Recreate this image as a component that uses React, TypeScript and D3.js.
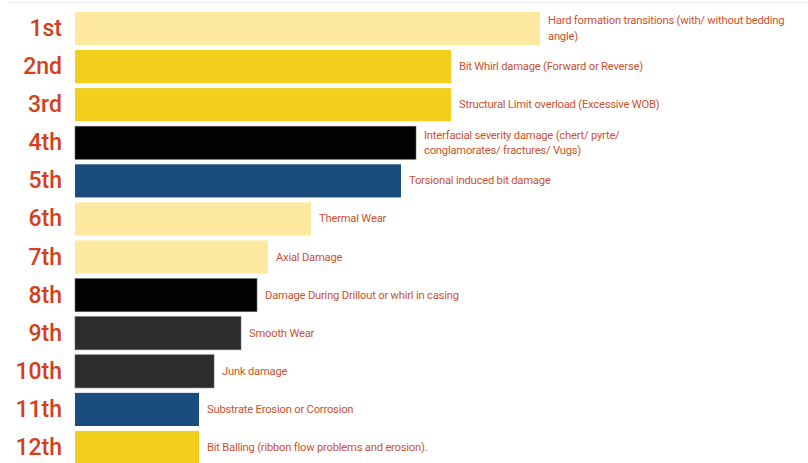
import React from "react";
import * as d3 from "d3";

const ranks = ["1st", "2nd", "3rd", "4th", "5th", "6th", "7th", "8th", "9th", "10th", "11th", "12th"];
const values = [465, 376, 376, 341, 326, 236, 193, 182, 166, 139, 124, 124];
const groups = ["light", "yellow", "yellow", "black", "blue", "light", "light", "black", "gray", "gray", "blue", "yellow"];
const labels = [
  ["Hard formation transitions (with/ without bedding", "angle)"],
  ["Bit Whirl damage (Forward or Reverse)"],
  ["Structural Limit overload (Excessive WOB)"],
  ["Interfacial severity damage (chert/ pyrte/", "conglamorates/ fractures/ Vugs)"],
  ["Torsional induced bit damage"],
  ["Thermal Wear"],
  ["Axial Damage"],
  ["Damage During Drillout or whirl in casing"],
  ["Smooth Wear"],
  ["Junk damage"],
  ["Substrate Erosion or Corrosion"],
  ["Bit Balling (ribbon flow problems and erosion)."],
];

const colorMap: Record<string, string> = {
  light: "#FDE9A0",
  yellow: "#F3CF1D",
  black: "#020202",
  blue: "#1A4C7E",
  gray: "#2C2C2C",
};

const W = 808;
const H = 463;

export default function App() {
  const x = d3.scaleLinear().domain([0, 465]).range([75, 540]);
  const y = d3
    .scaleBand<string>()
    .domain(ranks)
    .range([10, 466])
    .paddingInner(0.13)
    .paddingOuter(0.05);

  return (
    <svg
      width={W}
      height={H}
      style={{ position: "absolute", left: 0, top: 0, background: "#fff" }}
    >
      <line x1={8} x2={W} y1={2.5} y2={2.5} stroke="#ececec" strokeWidth={1} />
      {ranks.map((r, i) => {
        const y0 = y(r)!;
        const bh = y.bandwidth();
        const cy = y0 + bh / 2;
        const lines = labels[i];
        const lh = 15.5;
        return (
          <g key={r}>
            <rect
              x={x(0)}
              y={y0}
              width={x(values[i]) - x(0)}
              height={bh}
              fill={colorMap[groups[i]]}
              stroke={groups[i] === "black" || groups[i] === "gray" ? "#6a6a6a" : "none"}
              strokeWidth={0.6}
            />
            <text
              x={62}
              y={cy}
              textAnchor="end"
              dominantBaseline="central"
              fontFamily="Roboto, sans-serif"
              fontWeight={500}
              fontSize={23}
              fill="#D2401C"
            >
              {r}
            </text>
            {lines.map((t, k) => (
              <text
                key={k}
                x={x(values[i]) + 8}
                y={cy + (k - (lines.length - 1) / 2) * lh}
                dominantBaseline="central"
                fontFamily="Roboto, sans-serif"
                fontSize={11.2}
                letterSpacing={-0.2}
                fill="#C8532F"
              >
                {t}
              </text>
            ))}
          </g>
        );
      })}
    </svg>
  );
}
